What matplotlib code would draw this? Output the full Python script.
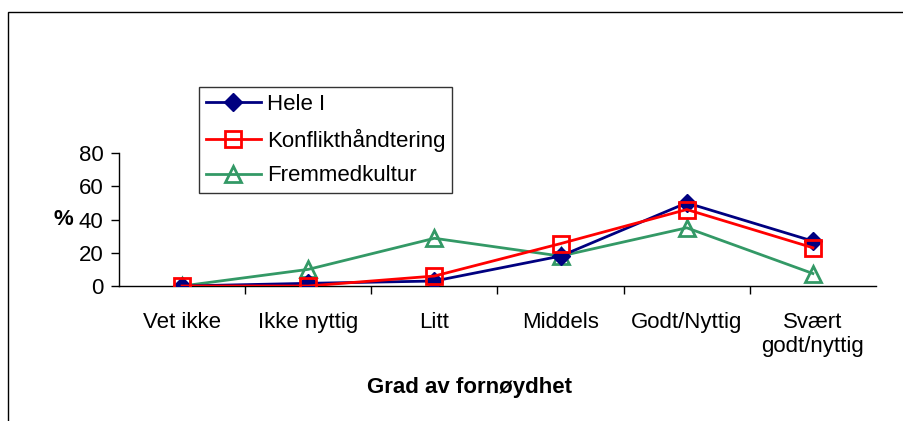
import matplotlib.pyplot as plt
from matplotlib.patches import Rectangle

plt.rcParams['font.family'] = ['Liberation Sans', 'DejaVu Sans']

# categories on the x axis
categories = ["Vet ikke", "Ikke nyttig", "Litt", "Middels", "Godt/Nyttig", "Svært\ngodt/nyttig"]

# percentages
hele = [0, 1.6, 3, 18, 50, 27]
konflikt = [0, 0, 6, 25.5, 46, 23]
fremmed = [0, 10, 28.7, 18, 35, 7.5]

yticks = [0, 20, 40, 60, 80]

FS = 16

fig = plt.figure(figsize=(9.04, 4.21), dpi=100)

# outer chart frame (cut off at right and bottom in the original)
fig.patches.append(Rectangle((8 / 904, -0.05), 1.0, 1 - 12 / 421 + 0.05,
                             transform=fig.transFigure, fill=False,
                             edgecolor="black", linewidth=1.0))

ax = fig.add_axes([119 / 904, 1 - 286 / 421, (876 - 119) / 904, (286 - 153) / 421])

x = range(len(categories))
ax.plot(x, hele, color="#000080", marker="D", markersize=9, linewidth=2,
        label="Hele I", zorder=3)
ax.plot(x, konflikt, color="red", marker="s", markersize=11, markerfacecolor="none",
        markeredgewidth=2, linewidth=2, label="Konflikthåndtering", zorder=3)
ax.plot(x, fremmed, color="#339966", marker="^", markersize=12, markerfacecolor="none",
        markeredgewidth=2, linewidth=2, label="Fremmedkultur", zorder=2)

ax.set_xlim(-0.5, len(categories) - 0.5)
ax.set_ylim(0, 80)
ax.set_yticks(yticks)
ax.set_yticklabels([str(t) for t in yticks], fontsize=FS)

# ticks between categories, labels centered under each category
ax.set_xticks([i + 0.5 for i in range(len(categories) - 1)])
ax.set_xticklabels([])
ax.tick_params(axis="x", direction="out", length=6, width=1)
ax.tick_params(axis="y", direction="out", length=6, width=1, pad=5)
for i, lab in enumerate(categories):
    ax.text(i, -15.5, lab, ha="center", va="top", fontsize=FS,
            transform=ax.transData, linespacing=1.2, clip_on=False)

for s in ["top", "right"]:
    ax.spines[s].set_visible(False)
ax.spines["left"].set_linewidth(1)
ax.spines["bottom"].set_linewidth(1)

fig.text(63 / 904, 1 - 220 / 421, "%", fontsize=FS, fontweight="bold",
         ha="center", va="center")
fig.text(470 / 904, 1 - 388 / 421, "Grad av fornøydhet", fontsize=FS,
         fontweight="bold", ha="center", va="center")

leg = fig.legend(loc="upper left", bbox_to_anchor=(199 / 904, 1 - 87 / 421),
                 bbox_transform=fig.transFigure, fontsize=FS, frameon=True,
                 fancybox=False, shadow=False, handlelength=2.5, handletextpad=0.25,
                 labelspacing=0.62, borderpad=0.3, borderaxespad=0)
leg.get_frame().set_edgecolor("black")
leg.get_frame().set_linewidth(1)

fig.savefig("out.png", dpi=100)
